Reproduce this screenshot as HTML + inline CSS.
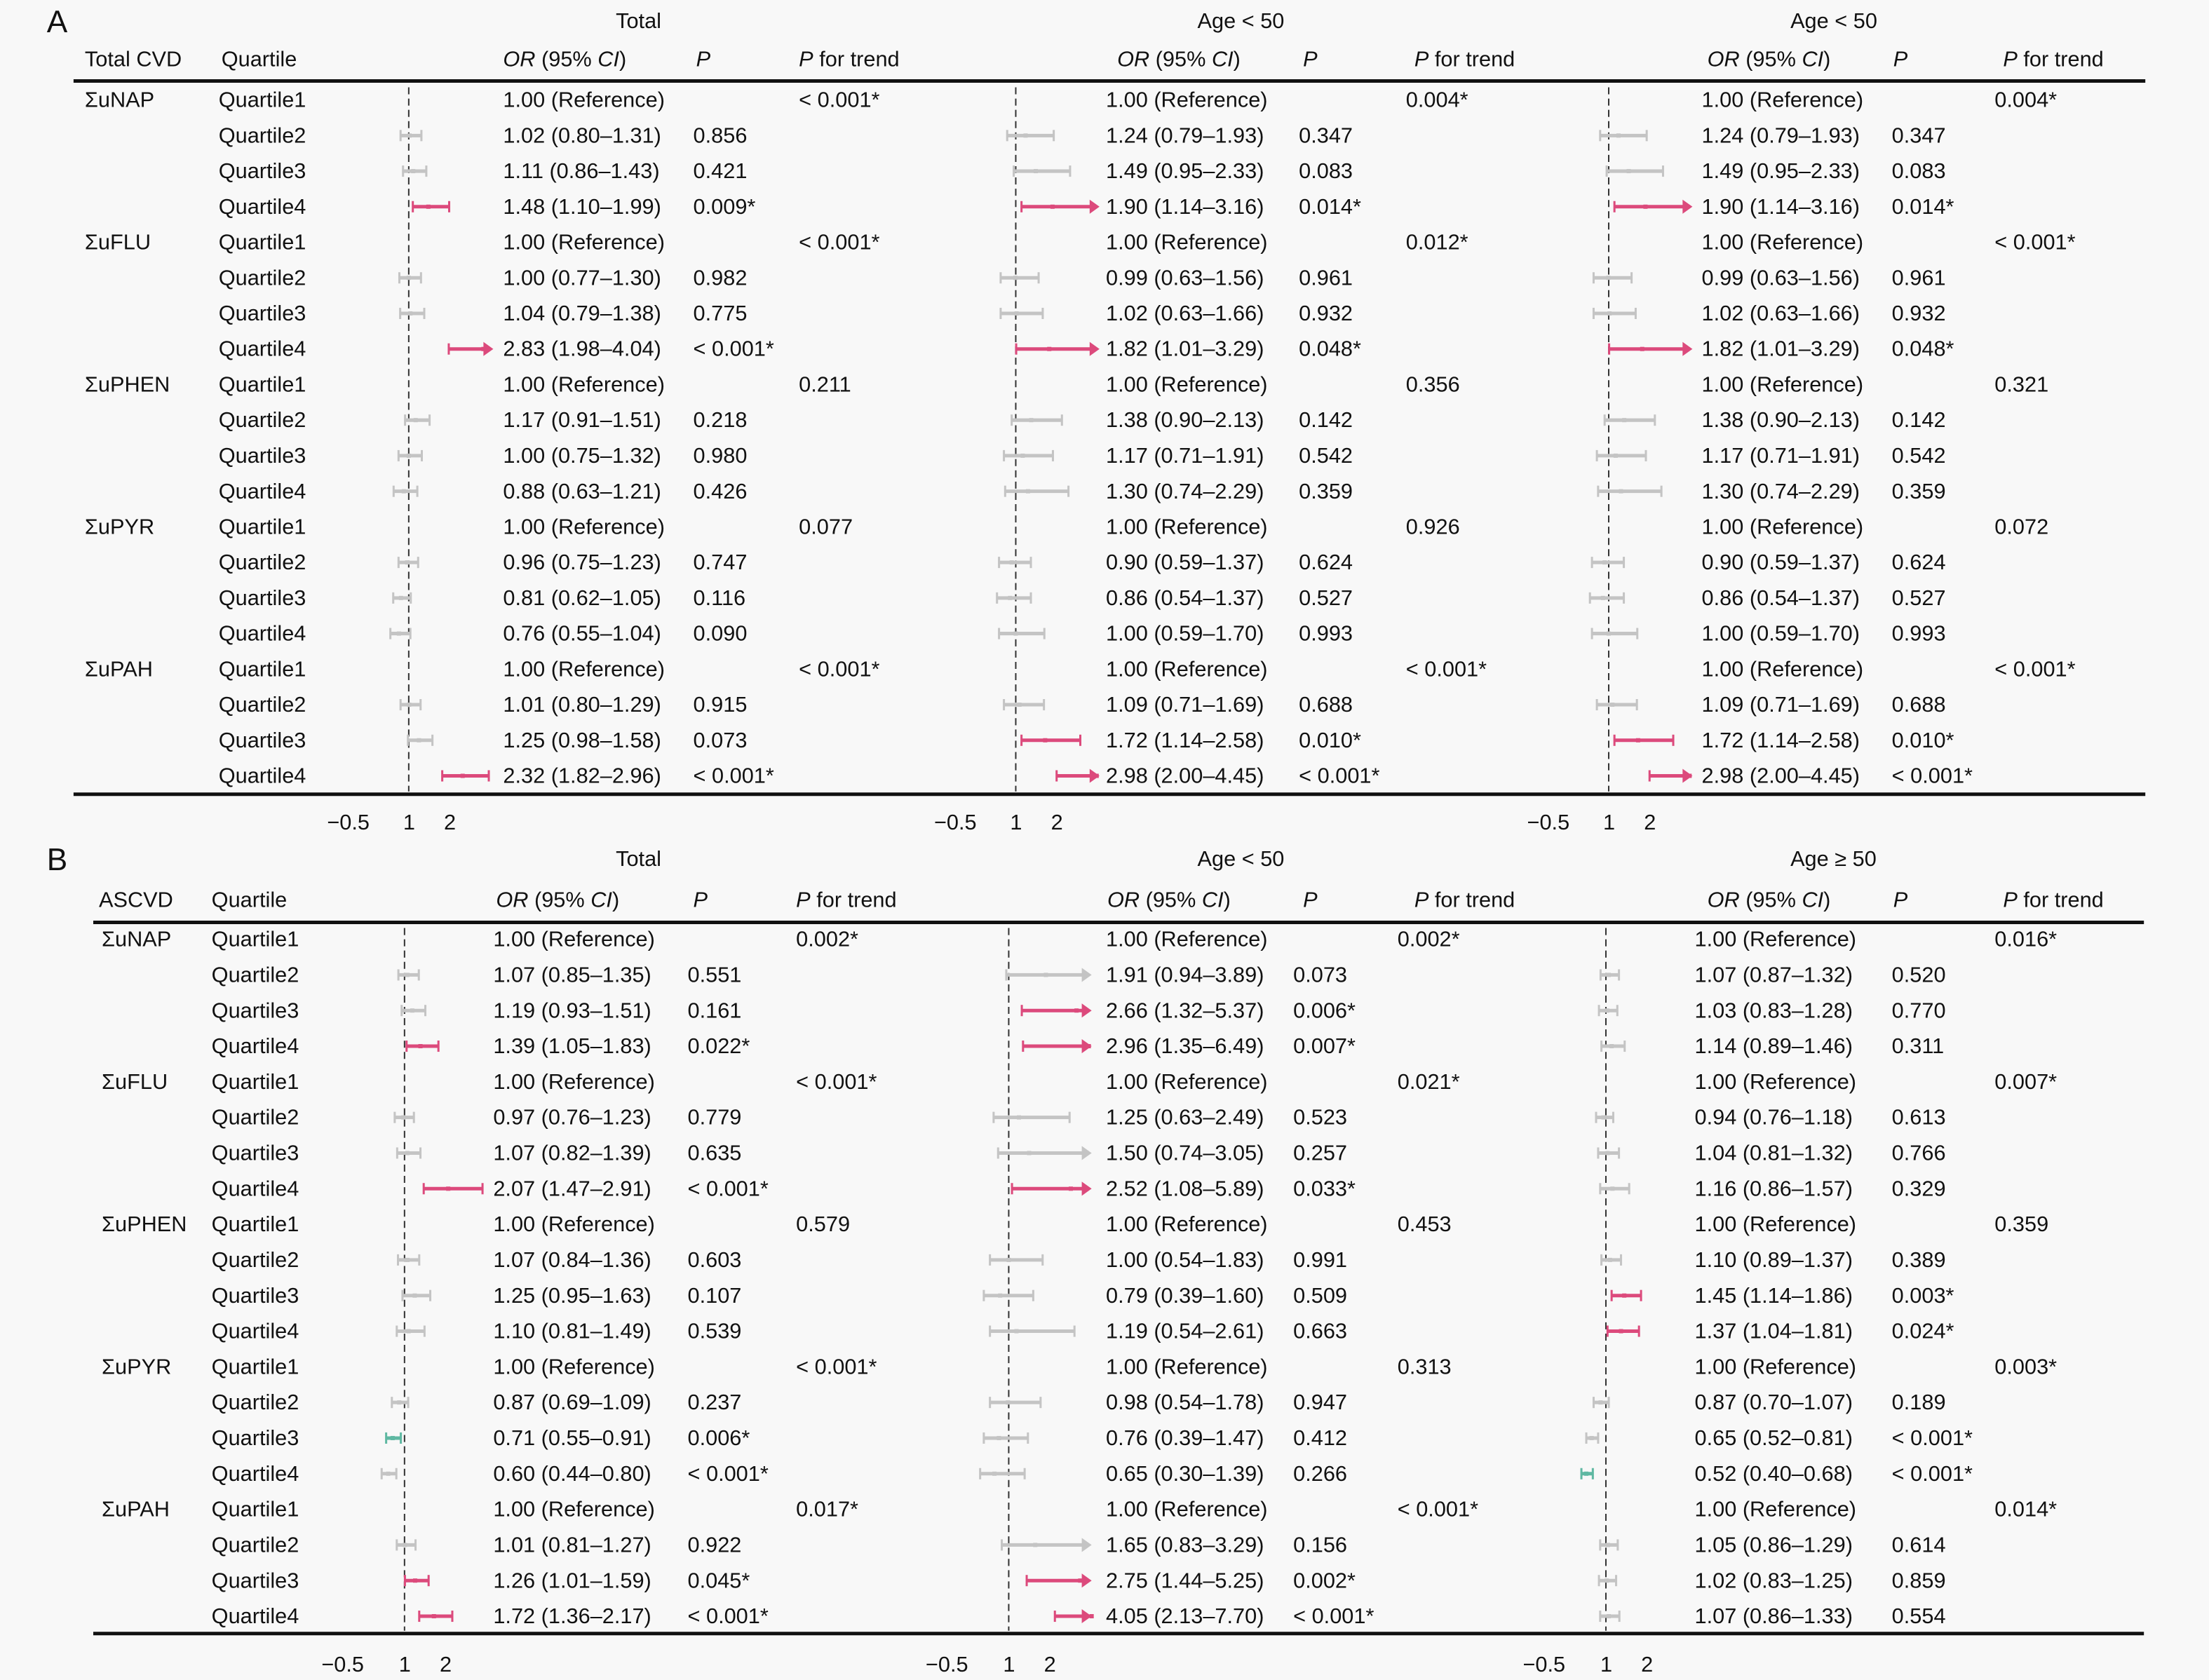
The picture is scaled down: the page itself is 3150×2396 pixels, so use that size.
<!DOCTYPE html>
<html><head><meta charset="utf-8"><style>
html,body{margin:0;padding:0;background:#f8f8f8}
svg{display:block}
text{font-family:"Liberation Sans",sans-serif;font-size:15.3px;fill:#111}
.big{font-size:22px}
</style></head><body>
<svg id="s" width="3150" height="2396" viewBox="0 0 1568 1193" xmlns="http://www.w3.org/2000/svg">
<rect width="1568" height="1193" fill="#f8f8f8"/>
<text class="big" x="33" y="23">A</text>
<text x="437" y="20">Total</text><text x="850" y="20">Age &lt; 50</text><text x="1271" y="20">Age &lt; 50</text>
<g transform="translate(0,47)">
<text x="60">Total CVD</text><text x="157">Quartile</text>
<text x="357" font-style="italic">OR<tspan font-style="normal"> (95% </tspan>CI<tspan font-style="normal">)</tspan></text><text x="494" font-style="italic">P</text><text x="567"><tspan font-style="italic">P</tspan> for trend</text>
<text x="793" font-style="italic">OR<tspan font-style="normal"> (95% </tspan>CI<tspan font-style="normal">)</tspan></text><text x="925" font-style="italic">P</text><text x="1004"><tspan font-style="italic">P</tspan> for trend</text>
<text x="1212" font-style="italic">OR<tspan font-style="normal"> (95% </tspan>CI<tspan font-style="normal">)</tspan></text><text x="1344" font-style="italic">P</text><text x="1422"><tspan font-style="italic">P</tspan> for trend</text>
</g>
<line x1="52" y1="57.5" x2="1523" y2="57.5" stroke="#111" stroke-width="2.5"/>
<line x1="52" y1="564" x2="1523" y2="564" stroke="#111" stroke-width="2.5"/>
<text class="big" x="33" y="618">B</text>
<text x="437" y="615">Total</text><text x="850" y="615">Age &lt; 50</text><text x="1271" y="615">Age ≥ 50</text>
<g transform="translate(0,644)">
<text x="70">ASCVD</text><text x="150">Quartile</text>
<text x="352" font-style="italic">OR<tspan font-style="normal"> (95% </tspan>CI<tspan font-style="normal">)</tspan></text><text x="492" font-style="italic">P</text><text x="565"><tspan font-style="italic">P</tspan> for trend</text>
<text x="786" font-style="italic">OR<tspan font-style="normal"> (95% </tspan>CI<tspan font-style="normal">)</tspan></text><text x="925" font-style="italic">P</text><text x="1004"><tspan font-style="italic">P</tspan> for trend</text>
<text x="1212" font-style="italic">OR<tspan font-style="normal"> (95% </tspan>CI<tspan font-style="normal">)</tspan></text><text x="1344" font-style="italic">P</text><text x="1422"><tspan font-style="italic">P</tspan> for trend</text>
</g>
<line x1="66" y1="655" x2="1522" y2="655" stroke="#111" stroke-width="2.5"/>
<line x1="66" y1="1160" x2="1522" y2="1160" stroke="#111" stroke-width="2.5"/>
<g>
<text x="232" y="589">−0.5</text><text x="286" y="589">1</text><text x="315" y="589">2</text>
<text x="663" y="589">−0.5</text><text x="717" y="589">1</text><text x="746" y="589">2</text>
<text x="1084" y="589">−0.5</text><text x="1138" y="589">1</text><text x="1167" y="589">2</text>
<text x="228" y="1187">−0.5</text><text x="283" y="1187">1</text><text x="312" y="1187">2</text>
<text x="657" y="1187">−0.5</text><text x="712" y="1187">1</text><text x="741" y="1187">2</text>
<text x="1081" y="1187">−0.5</text><text x="1136" y="1187">1</text><text x="1165" y="1187">2</text>
</g>
<g transform="translate(0,76)"><text x="60">ΣuNAP</text><text x="155">Quartile1</text><text x="357">1.00 (Reference)</text><text x="567">&lt; 0.001*</text><text x="785">1.00 (Reference)</text><text x="998">0.004*</text><text x="1208">1.00 (Reference)</text><text x="1416">0.004*</text></g>
<g transform="translate(0,101.3)"><text x="155">Quartile2</text><text x="357">1.02 (0.80–1.31)</text><text x="492">0.856</text><text x="785">1.24 (0.79–1.93)</text><text x="922">0.347</text><text x="1208">1.24 (0.79–1.93)</text><text x="1343">0.347</text></g>
<g transform="translate(0,126.5)"><text x="155">Quartile3</text><text x="357">1.11 (0.86–1.43)</text><text x="492">0.421</text><text x="785">1.49 (0.95–2.33)</text><text x="922">0.083</text><text x="1208">1.49 (0.95–2.33)</text><text x="1343">0.083</text></g>
<g transform="translate(0,151.8)"><text x="155">Quartile4</text><text x="357">1.48 (1.10–1.99)</text><text x="492">0.009*</text><text x="785">1.90 (1.14–3.16)</text><text x="922">0.014*</text><text x="1208">1.90 (1.14–3.16)</text><text x="1343">0.014*</text></g>
<g transform="translate(0,177)"><text x="60">ΣuFLU</text><text x="155">Quartile1</text><text x="357">1.00 (Reference)</text><text x="567">&lt; 0.001*</text><text x="785">1.00 (Reference)</text><text x="998">0.012*</text><text x="1208">1.00 (Reference)</text><text x="1416">&lt; 0.001*</text></g>
<g transform="translate(0,202.3)"><text x="155">Quartile2</text><text x="357">1.00 (0.77–1.30)</text><text x="492">0.982</text><text x="785">0.99 (0.63–1.56)</text><text x="922">0.961</text><text x="1208">0.99 (0.63–1.56)</text><text x="1343">0.961</text></g>
<g transform="translate(0,227.6)"><text x="155">Quartile3</text><text x="357">1.04 (0.79–1.38)</text><text x="492">0.775</text><text x="785">1.02 (0.63–1.66)</text><text x="922">0.932</text><text x="1208">1.02 (0.63–1.66)</text><text x="1343">0.932</text></g>
<g transform="translate(0,252.8)"><text x="155">Quartile4</text><text x="357">2.83 (1.98–4.04)</text><text x="492">&lt; 0.001*</text><text x="785">1.82 (1.01–3.29)</text><text x="922">0.048*</text><text x="1208">1.82 (1.01–3.29)</text><text x="1343">0.048*</text></g>
<g transform="translate(0,278.1)"><text x="60">ΣuPHEN</text><text x="155">Quartile1</text><text x="357">1.00 (Reference)</text><text x="567">0.211</text><text x="785">1.00 (Reference)</text><text x="998">0.356</text><text x="1208">1.00 (Reference)</text><text x="1416">0.321</text></g>
<g transform="translate(0,303.3)"><text x="155">Quartile2</text><text x="357">1.17 (0.91–1.51)</text><text x="492">0.218</text><text x="785">1.38 (0.90–2.13)</text><text x="922">0.142</text><text x="1208">1.38 (0.90–2.13)</text><text x="1343">0.142</text></g>
<g transform="translate(0,328.6)"><text x="155">Quartile3</text><text x="357">1.00 (0.75–1.32)</text><text x="492">0.980</text><text x="785">1.17 (0.71–1.91)</text><text x="922">0.542</text><text x="1208">1.17 (0.71–1.91)</text><text x="1343">0.542</text></g>
<g transform="translate(0,353.9)"><text x="155">Quartile4</text><text x="357">0.88 (0.63–1.21)</text><text x="492">0.426</text><text x="785">1.30 (0.74–2.29)</text><text x="922">0.359</text><text x="1208">1.30 (0.74–2.29)</text><text x="1343">0.359</text></g>
<g transform="translate(0,379.1)"><text x="60">ΣuPYR</text><text x="155">Quartile1</text><text x="357">1.00 (Reference)</text><text x="567">0.077</text><text x="785">1.00 (Reference)</text><text x="998">0.926</text><text x="1208">1.00 (Reference)</text><text x="1416">0.072</text></g>
<g transform="translate(0,404.4)"><text x="155">Quartile2</text><text x="357">0.96 (0.75–1.23)</text><text x="492">0.747</text><text x="785">0.90 (0.59–1.37)</text><text x="922">0.624</text><text x="1208">0.90 (0.59–1.37)</text><text x="1343">0.624</text></g>
<g transform="translate(0,429.6)"><text x="155">Quartile3</text><text x="357">0.81 (0.62–1.05)</text><text x="492">0.116</text><text x="785">0.86 (0.54–1.37)</text><text x="922">0.527</text><text x="1208">0.86 (0.54–1.37)</text><text x="1343">0.527</text></g>
<g transform="translate(0,454.9)"><text x="155">Quartile4</text><text x="357">0.76 (0.55–1.04)</text><text x="492">0.090</text><text x="785">1.00 (0.59–1.70)</text><text x="922">0.993</text><text x="1208">1.00 (0.59–1.70)</text><text x="1343">0.993</text></g>
<g transform="translate(0,480.2)"><text x="60">ΣuPAH</text><text x="155">Quartile1</text><text x="357">1.00 (Reference)</text><text x="567">&lt; 0.001*</text><text x="785">1.00 (Reference)</text><text x="998">&lt; 0.001*</text><text x="1208">1.00 (Reference)</text><text x="1416">&lt; 0.001*</text></g>
<g transform="translate(0,505.4)"><text x="155">Quartile2</text><text x="357">1.01 (0.80–1.29)</text><text x="492">0.915</text><text x="785">1.09 (0.71–1.69)</text><text x="922">0.688</text><text x="1208">1.09 (0.71–1.69)</text><text x="1343">0.688</text></g>
<g transform="translate(0,530.7)"><text x="155">Quartile3</text><text x="357">1.25 (0.98–1.58)</text><text x="492">0.073</text><text x="785">1.72 (1.14–2.58)</text><text x="922">0.010*</text><text x="1208">1.72 (1.14–2.58)</text><text x="1343">0.010*</text></g>
<g transform="translate(0,555.9)"><text x="155">Quartile4</text><text x="357">2.32 (1.82–2.96)</text><text x="492">&lt; 0.001*</text><text x="785">2.98 (2.00–4.45)</text><text x="922">&lt; 0.001*</text><text x="1208">2.98 (2.00–4.45)</text><text x="1343">&lt; 0.001*</text></g>
<g transform="translate(0,672)"><text x="72">ΣuNAP</text><text x="150">Quartile1</text><text x="350">1.00 (Reference)</text><text x="565">0.002*</text><text x="785">1.00 (Reference)</text><text x="992">0.002*</text><text x="1203">1.00 (Reference)</text><text x="1416">0.016*</text></g>
<g transform="translate(0,697.3)"><text x="150">Quartile2</text><text x="350">1.07 (0.85–1.35)</text><text x="488">0.551</text><text x="785">1.91 (0.94–3.89)</text><text x="918">0.073</text><text x="1203">1.07 (0.87–1.32)</text><text x="1343">0.520</text></g>
<g transform="translate(0,722.6)"><text x="150">Quartile3</text><text x="350">1.19 (0.93–1.51)</text><text x="488">0.161</text><text x="785">2.66 (1.32–5.37)</text><text x="918">0.006*</text><text x="1203">1.03 (0.83–1.28)</text><text x="1343">0.770</text></g>
<g transform="translate(0,747.9)"><text x="150">Quartile4</text><text x="350">1.39 (1.05–1.83)</text><text x="488">0.022*</text><text x="785">2.96 (1.35–6.49)</text><text x="918">0.007*</text><text x="1203">1.14 (0.89–1.46)</text><text x="1343">0.311</text></g>
<g transform="translate(0,773.2)"><text x="72">ΣuFLU</text><text x="150">Quartile1</text><text x="350">1.00 (Reference)</text><text x="565">&lt; 0.001*</text><text x="785">1.00 (Reference)</text><text x="992">0.021*</text><text x="1203">1.00 (Reference)</text><text x="1416">0.007*</text></g>
<g transform="translate(0,798.5)"><text x="150">Quartile2</text><text x="350">0.97 (0.76–1.23)</text><text x="488">0.779</text><text x="785">1.25 (0.63–2.49)</text><text x="918">0.523</text><text x="1203">0.94 (0.76–1.18)</text><text x="1343">0.613</text></g>
<g transform="translate(0,823.8)"><text x="150">Quartile3</text><text x="350">1.07 (0.82–1.39)</text><text x="488">0.635</text><text x="785">1.50 (0.74–3.05)</text><text x="918">0.257</text><text x="1203">1.04 (0.81–1.32)</text><text x="1343">0.766</text></g>
<g transform="translate(0,849.1)"><text x="150">Quartile4</text><text x="350">2.07 (1.47–2.91)</text><text x="488">&lt; 0.001*</text><text x="785">2.52 (1.08–5.89)</text><text x="918">0.033*</text><text x="1203">1.16 (0.86–1.57)</text><text x="1343">0.329</text></g>
<g transform="translate(0,874.4)"><text x="72">ΣuPHEN</text><text x="150">Quartile1</text><text x="350">1.00 (Reference)</text><text x="565">0.579</text><text x="785">1.00 (Reference)</text><text x="992">0.453</text><text x="1203">1.00 (Reference)</text><text x="1416">0.359</text></g>
<g transform="translate(0,899.7)"><text x="150">Quartile2</text><text x="350">1.07 (0.84–1.36)</text><text x="488">0.603</text><text x="785">1.00 (0.54–1.83)</text><text x="918">0.991</text><text x="1203">1.10 (0.89–1.37)</text><text x="1343">0.389</text></g>
<g transform="translate(0,925)"><text x="150">Quartile3</text><text x="350">1.25 (0.95–1.63)</text><text x="488">0.107</text><text x="785">0.79 (0.39–1.60)</text><text x="918">0.509</text><text x="1203">1.45 (1.14–1.86)</text><text x="1343">0.003*</text></g>
<g transform="translate(0,950.3)"><text x="150">Quartile4</text><text x="350">1.10 (0.81–1.49)</text><text x="488">0.539</text><text x="785">1.19 (0.54–2.61)</text><text x="918">0.663</text><text x="1203">1.37 (1.04–1.81)</text><text x="1343">0.024*</text></g>
<g transform="translate(0,975.6)"><text x="72">ΣuPYR</text><text x="150">Quartile1</text><text x="350">1.00 (Reference)</text><text x="565">&lt; 0.001*</text><text x="785">1.00 (Reference)</text><text x="992">0.313</text><text x="1203">1.00 (Reference)</text><text x="1416">0.003*</text></g>
<g transform="translate(0,1000.9)"><text x="150">Quartile2</text><text x="350">0.87 (0.69–1.09)</text><text x="488">0.237</text><text x="785">0.98 (0.54–1.78)</text><text x="918">0.947</text><text x="1203">0.87 (0.70–1.07)</text><text x="1343">0.189</text></g>
<g transform="translate(0,1026.2)"><text x="150">Quartile3</text><text x="350">0.71 (0.55–0.91)</text><text x="488">0.006*</text><text x="785">0.76 (0.39–1.47)</text><text x="918">0.412</text><text x="1203">0.65 (0.52–0.81)</text><text x="1343">&lt; 0.001*</text></g>
<g transform="translate(0,1051.5)"><text x="150">Quartile4</text><text x="350">0.60 (0.44–0.80)</text><text x="488">&lt; 0.001*</text><text x="785">0.65 (0.30–1.39)</text><text x="918">0.266</text><text x="1203">0.52 (0.40–0.68)</text><text x="1343">&lt; 0.001*</text></g>
<g transform="translate(0,1076.8)"><text x="72">ΣuPAH</text><text x="150">Quartile1</text><text x="350">1.00 (Reference)</text><text x="565">0.017*</text><text x="785">1.00 (Reference)</text><text x="992">&lt; 0.001*</text><text x="1203">1.00 (Reference)</text><text x="1416">0.014*</text></g>
<g transform="translate(0,1102.1)"><text x="150">Quartile2</text><text x="350">1.01 (0.81–1.27)</text><text x="488">0.922</text><text x="785">1.65 (0.83–3.29)</text><text x="918">0.156</text><text x="1203">1.05 (0.86–1.29)</text><text x="1343">0.614</text></g>
<g transform="translate(0,1127.4)"><text x="150">Quartile3</text><text x="350">1.26 (1.01–1.59)</text><text x="488">0.045*</text><text x="785">2.75 (1.44–5.25)</text><text x="918">0.002*</text><text x="1203">1.02 (0.83–1.25)</text><text x="1343">0.859</text></g>
<g transform="translate(0,1152.7)"><text x="150">Quartile4</text><text x="350">1.72 (1.36–2.17)</text><text x="488">&lt; 0.001*</text><text x="785">4.05 (2.13–7.70)</text><text x="918">&lt; 0.001*</text><text x="1203">1.07 (0.86–1.33)</text><text x="1343">0.554</text></g>
<g id="bars"></g>
</svg>
<script>
(function(){
var NS="http://www.w3.org/2000/svg",g=document.getElementById("bars");
function el(n,a){var e=document.createElementNS(NS,n);for(var k in a)e.setAttribute(k,a[k]);g.appendChild(e);return e;}
var A1=[[1,1,1,0],[1.02,.80,1.31,.856],[1.11,.86,1.43,.421],[1.48,1.10,1.99,.009],
[1,1,1,0],[1.00,.77,1.30,.982],[1.04,.79,1.38,.775],[2.83,1.98,4.04,.0001],
[1,1,1,0],[1.17,.91,1.51,.218],[1.00,.75,1.32,.98],[.88,.63,1.21,.426],
[1,1,1,0],[.96,.75,1.23,.747],[.81,.62,1.05,.116],[.76,.55,1.04,.09],
[1,1,1,0],[1.01,.80,1.29,.915],[1.25,.98,1.58,.073],[2.32,1.82,2.96,.0001]];
var A2=[[1,1,1,0],[1.24,.79,1.93,.347],[1.49,.95,2.33,.083],[1.90,1.14,3.16,.014],
[1,1,1,0],[.99,.63,1.56,.961],[1.02,.63,1.66,.932],[1.82,1.01,3.29,.048],
[1,1,1,0],[1.38,.90,2.13,.142],[1.17,.71,1.91,.542],[1.30,.74,2.29,.359],
[1,1,1,0],[.90,.59,1.37,.624],[.86,.54,1.37,.527],[1.00,.59,1.70,.993],
[1,1,1,0],[1.09,.71,1.69,.688],[1.72,1.14,2.58,.01],[2.98,2.00,4.45,.0001]];
var B1=[[1,1,1,0],[1.07,.85,1.35,.551],[1.19,.93,1.51,.161],[1.39,1.05,1.83,.022],
[1,1,1,0],[.97,.76,1.23,.779],[1.07,.82,1.39,.635],[2.07,1.47,2.91,.0001],
[1,1,1,0],[1.07,.84,1.36,.603],[1.25,.95,1.63,.107],[1.10,.81,1.49,.539],
[1,1,1,0],[.87,.69,1.09,.237],[.71,.55,.91,.006],[.60,.44,.80,.5],
[1,1,1,0],[1.01,.81,1.27,.922],[1.26,1.01,1.59,.045],[1.72,1.36,2.17,.0001]];
var B2=[[1,1,1,0],[1.91,.94,3.89,.073],[2.66,1.32,5.37,.006],[2.96,1.35,6.49,.007],
[1,1,1,0],[1.25,.63,2.49,.523],[1.50,.74,3.05,.257],[2.52,1.08,5.89,.033],
[1,1,1,0],[1.00,.54,1.83,.991],[.79,.39,1.60,.509],[1.19,.54,2.61,.663],
[1,1,1,0],[.98,.54,1.78,.947],[.76,.39,1.47,.412],[.65,.30,1.39,.266],
[1,1,1,0],[1.65,.83,3.29,.156],[2.75,1.44,5.25,.002],[4.05,2.13,7.70,.0001]];
var B3=[[1,1,1,0],[1.07,.87,1.32,.52],[1.03,.83,1.28,.77],[1.14,.89,1.46,.311],
[1,1,1,0],[.94,.76,1.18,.613],[1.04,.81,1.32,.766],[1.16,.86,1.57,.329],
[1,1,1,0],[1.10,.89,1.37,.389],[1.45,1.14,1.86,.003],[1.37,1.04,1.81,.024],
[1,1,1,0],[.87,.70,1.07,.189],[.65,.52,.81,.5],[.52,.40,.68,.0001],
[1,1,1,0],[1.05,.86,1.29,.614],[1.02,.83,1.25,.859],[1.07,.86,1.33,.554]];
function panel(d,x1,y0,step,yTop,yBot,maxV){
  el("line",{x1:x1,y1:yTop,x2:x1,y2:yBot,stroke:"#333","stroke-width":1,"stroke-dasharray":"5,3"});
  d.forEach(function(r,i){
    var y=y0+i*step; if(r[3]===0)return;
    var sig=r[3]<0.05, col=sig?(r[0]>1?"#dc4a7c":"#5fb8a2"):"#c4c4c4";
    var a=x1+(r[1]-1)*29, hi=Math.min(r[2],maxV), b=x1+(hi-1)*29, arrow=r[2]>maxV;
    el("line",{x1:a,y1:y,x2:arrow?b-5:b,y2:y,stroke:col,"stroke-width":2.5});
    el("line",{x1:a,y1:y-4,x2:a,y2:y+4,stroke:col,"stroke-width":1.5});
    if(arrow){el("polygon",{points:(b-7)+","+(y-5)+" "+b+","+y+" "+(b-7)+","+(y+5),fill:col});}
    else el("line",{x1:b,y1:y-4,x2:b,y2:y+4,stroke:col,"stroke-width":1.5});
    var m=x1+(Math.min(r[0],maxV)-1)*29;
    el("rect",{x:m-1.5,y:y-1.5,width:3,height:3,fill:col});
  });
}
panel(A1,290,71,25.26,62,562,3.07);
panel(A2,721,71,25.26,62,562,3.05);
panel(A2,1142,71,25.26,62,562,3.05);
panel(B1,287,667,25.3,659,1158,3.05);
panel(B2,716,667,25.3,659,1158,3.03);
panel(B3,1140,667,25.3,659,1158,3.05);
})();
</script>
</body></html>
